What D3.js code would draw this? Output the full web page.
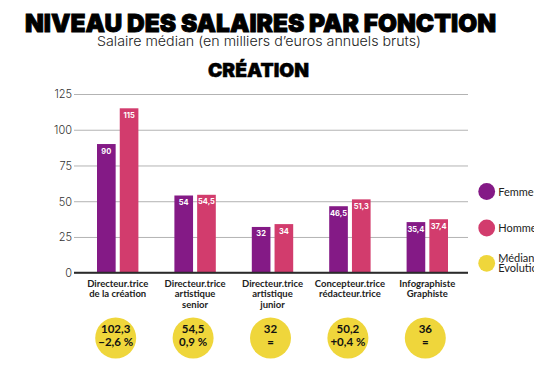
<!DOCTYPE html>
<html lang="fr">

<head>
  <meta charset="utf-8">
  <title>Niveau des salaires par fonction</title>
  <style>
    body {
      margin: 0;
      background: #fff;
    }

    svg {
      display: block;
    }

    .title {
      font: 900 25px Inter, Lato, sans-serif;
      fill: #000;
      stroke: #000;
      stroke-width: 0.9;
    }

    .subtitle {
      font: 300 13.5px Inter, Lato, sans-serif;
      fill: #222;
    }

    .section {
      font: 900 19px Inter, Lato, sans-serif;
      fill: #000;
      stroke: #000;
      stroke-width: 0.5;
    }

    .y-axis text {
      font: 300 11px Inter, Lato, sans-serif;
      fill: #333;
    }

    .cat text {
      font: 700 9.5px Lato, sans-serif;
      fill: #222;
    }

    .val {
      font: 700 7.5px Inter, sans-serif;
      fill: #fff;
      text-anchor: middle;
    }

    .med text {
      font: 700 11.5px Lato, sans-serif;
      fill: #111;
      text-anchor: middle;
    }

    .legend text {
      font: 400 11px Lato, sans-serif;
      fill: #222;
    }
  </style>
</head>

<body>
  <div id="chart"></div>
</body>
<script src="https://d3js.org/d3.v7.min.js"></script>

<script>
  var categories = [
    ["Directeur.trice", "de la création"],
    ["Directeur.trice", "artistique", "senior"],
    ["Directeur.trice", "artistique", "junior"],
    ["Concepteur.trice", "rédacteur.trice"],
    ["Infographiste", "Graphiste"]
  ];
  var femmes = [90, 54, 32, 46.5, 35.4];
  var hommes = [115, 54.5, 34, 51.3, 37.4];
  var medianes = [102.3, 54.5, 32, 50.2, 36];
  var evolutions = ["\u22122,6 %", "0,9 %", "=", "+0,4 %", "="];
  var yTicks = [0, 25, 50, 75, 100, 125];
  var series = ["Femmes", "Hommes"];
  var legendLabels = [["Femmes"], ["Hommes"], ["Médiane", "Évolution"]];

  var colors = {
    Femmes: "#841a86",
    Hommes: "#d23c6d",
    med: "#efd63b"
  };

  var width = 534,
    height = 372;
  var plot = { left: 74, right: 468, top: 94, bottom: 272.7 };

  var fmt = function (v) {
    return String(v).replace(".", ",");
  };

  var svg = d3.select("#chart")
    .append("svg")
    .attr("width", width)
    .attr("height", height);

  // titles
  svg.append("text")
    .attr("class", "title")
    .attr("x", 25)
    .attr("y", 31.5)
    .attr("textLength", 471)
    .attr("lengthAdjust", "spacingAndGlyphs")
    .text("NIVEAU DES SALAIRES PAR FONCTION");

  svg.append("text")
    .attr("class", "subtitle")
    .attr("x", 97)
    .attr("y", 45.5)
    .attr("textLength", 324)
    .attr("lengthAdjust", "spacingAndGlyphs")
    .text("Salaire médian (en milliers d’euros annuels bruts)");

  svg.append("text")
    .attr("class", "section")
    .attr("x", 208)
    .attr("y", 77.3)
    .attr("textLength", 101)
    .attr("lengthAdjust", "spacingAndGlyphs")
    .text("CRÉATION");

  var ids = d3.range(categories.length);

  var x = d3.scaleBand()
    .domain(ids)
    .range([79, 466]);

  var xSub = d3.scaleBand()
    .domain(series)
    .range([x.bandwidth() / 2 - 20.7, x.bandwidth() / 2 + 20.7])
    .paddingInner(0.18);

  var y = d3.scaleLinear()
    .domain([0, 125])
    .range([plot.bottom, plot.top]);

  // grid + y axis
  var yAxis = svg.append("g")
    .attr("class", "y-axis")
    .attr("transform", "translate(" + plot.left + ",0)")
    .call(d3.axisLeft(y)
      .tickValues(yTicks)
      .tickSize(-(plot.right - plot.left))
      .tickSizeOuter(0)
      .tickPadding(2));
  yAxis.select(".domain").remove();
  yAxis.selectAll(".tick line")
    .attr("stroke", "#b3b3b3")
    .attr("stroke-width", 1);
  yAxis.selectAll(".tick text")
    .attr("dy", "0.36em");

  // bars
  var groups = svg.selectAll(".grp")
    .data(ids)
    .enter()
    .append("g")
    .attr("class", "grp")
    .attr("transform", function (i) {
      return "translate(" + x(i) + ",0)";
    });

  var bars = groups.selectAll("g.bar")
    .data(function (i) {
      return [
        { s: "Femmes", v: femmes[i] },
        { s: "Hommes", v: hommes[i] }
      ];
    })
    .enter()
    .append("g")
    .attr("class", "bar");

  bars.append("rect")
    .attr("x", function (d) {
      return xSub(d.s);
    })
    .attr("y", function (d) {
      return y(d.v);
    })
    .attr("width", xSub.bandwidth())
    .attr("height", function (d) {
      return plot.bottom - y(d.v);
    })
    .attr("fill", function (d) {
      return colors[d.s];
    });

  bars.append("text")
    .attr("class", "val")
    .attr("x", function (d) {
      return xSub(d.s) + xSub.bandwidth() / 2;
    })
    .attr("y", function (d) {
      return y(d.v) + 9.5;
    })
    .text(function (d) {
      return fmt(d.v);
    });

  // zero line
  svg.append("line")
    .attr("x1", plot.left)
    .attr("x2", plot.right)
    .attr("y1", y(0))
    .attr("y2", y(0))
    .attr("stroke", "#2b2b2b")
    .attr("stroke-width", 2);

  // category labels
  var cat = svg.append("g").attr("class", "cat");
  cat.selectAll("text")
    .data(ids)
    .enter()
    .append("text")
    .attr("text-anchor", "middle")
    .attr("transform", function (i) {
      return "translate(" + (x(i) + x.bandwidth() / 2) + ",286.7)";
    })
    .selectAll("tspan")
    .data(function (i) {
      return categories[i];
    })
    .enter()
    .append("tspan")
    .attr("x", 0)
    .attr("y", function (d, j) {
      return j * 10.8;
    })
    .text(function (d) {
      return d;
    });

  // median circles
  var med = svg.append("g").attr("class", "med")
    .selectAll("g")
    .data(ids)
    .enter()
    .append("g")
    .attr("transform", function (i) {
      return "translate(" + (x(i) + x.bandwidth() / 2 - 2) + ",338)";
    });
  med.append("circle")
    .attr("r", 20.5)
    .attr("fill", colors.med);
  med.append("text")
    .attr("y", -5)
    .text(function (i) {
      return fmt(medianes[i]);
    });
  med.append("text")
    .attr("y", 7.5)
    .text(function (i) {
      return evolutions[i];
    });

  // legend
  var legendColors = [colors.Femmes, colors.Hommes, colors.med];
  var legendY = [191.5, 228, 263.3];
  var leg = svg.append("g").attr("class", "legend")
    .selectAll("g")
    .data(legendLabels)
    .enter()
    .append("g")
    .attr("transform", function (d, i) {
      return "translate(486.7," + legendY[i] + ")";
    });
  leg.append("circle")
    .attr("r", 8.4)
    .attr("fill", function (d, i) {
      return legendColors[i];
    });
  leg.append("text")
    .attr("x", 11.5)
    .attr("y", function (d) {
      return d.length > 1 ? -1.2 : 4;
    })
    .selectAll("tspan")
    .data(function (d) {
      return d;
    })
    .enter()
    .append("tspan")
    .attr("x", 11.5)
    .attr("dy", function (d, j) {
      return j ? 9.8 : 0;
    })
    .text(function (d) {
      return d;
    });
</script>

</html>
